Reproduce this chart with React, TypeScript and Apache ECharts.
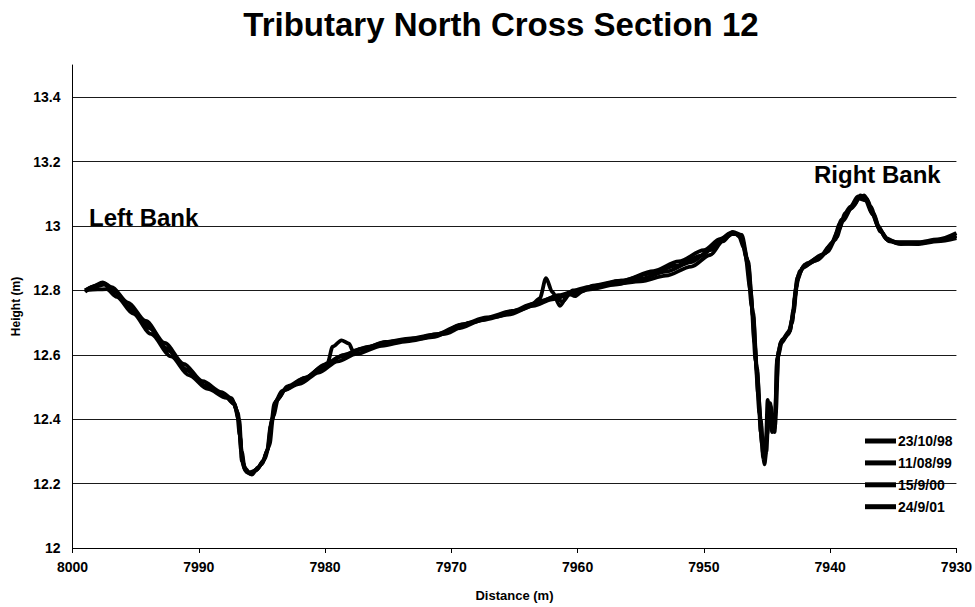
import React, { useEffect, useRef } from "react";
import * as echarts from "echarts";

const TITLE = "Tributary North Cross Section 12";
const X_NAME = "Distance (m)";
const Y_NAME = "Height (m)";
const LEFT_LABEL = "Left Bank";
const RIGHT_LABEL = "Right Bank";
const SERIES_NAMES = ["23/10/98", "11/08/99", "15/9/00", "24/9/01"];

const S98: [number, number][] = [
  [7999.0,12.800],[7998.2,12.812],[7997.5,12.818],[7996.8,12.800],[7995.5,12.750],[7994.0,12.690],[7992.5,12.620],[7991.0,12.555],[7989.5,12.505],[7988.0,12.475],[7987.3,12.455],[7986.9,12.420],[7986.7,12.340],[7986.6,12.270],[7986.3,12.240],[7985.9,12.230],[7985.4,12.245],[7984.9,12.270],[7984.5,12.310],[7984.2,12.400],[7983.8,12.460],[7983.1,12.495],[7981.5,12.530],[7980.0,12.570],[7978.5,12.600],[7977.0,12.620],[7975.0,12.640],[7973.0,12.650],[7971.0,12.665],[7969.0,12.695],[7967.0,12.715],[7965.0,12.735],[7963.0,12.765],[7961.5,12.785],[7960.0,12.800],[7958.5,12.815],[7956.5,12.830],[7954.0,12.860],[7952.0,12.890],[7950.0,12.925],[7948.7,12.960],[7947.8,12.980],[7947.1,12.970],[7946.6,12.900],[7946.2,12.750],[7945.9,12.580],[7945.6,12.420],[7945.4,12.320],[7945.2,12.300],[7945.0,12.350],[7944.8,12.420],[7944.6,12.380],[7944.4,12.370],[7944.2,12.580],[7943.9,12.640],[7943.4,12.660],[7943.0,12.700],[7942.8,12.780],[7942.5,12.850],[7942.0,12.880],[7940.8,12.905],[7940.0,12.940],[7939.3,12.990],[7938.8,13.040],[7938.1,13.065],[7937.6,13.095],[7937.1,13.085],[7936.6,13.040],[7936.0,12.985],[7935.4,12.955],[7934.5,12.948],[7933.0,12.948],[7931.5,12.955],[7930.0,12.970]
];

const S99: [number, number][] = [
  [7999.0,12.800],[7998.0,12.803],[7997.3,12.804],[7996.5,12.780],[7995.2,12.728],[7993.8,12.665],[7992.2,12.595],[7990.8,12.537],[7989.3,12.494],[7987.8,12.466],[7987.2,12.448],[7986.85,12.400],[7986.65,12.300],[7986.4,12.250],[7986.0,12.235],[7985.5,12.240],[7985.0,12.260],[7984.6,12.300],[7984.3,12.380],[7984.0,12.450],[7983.4,12.488],[7982.0,12.510],[7980.5,12.545],[7979.0,12.580],[7977.5,12.603],[7975.5,12.628],[7973.5,12.642],[7971.5,12.655],[7969.5,12.682],[7967.5,12.708],[7965.5,12.725],[7963.5,12.752],[7962.0,12.772],[7960.5,12.788],[7959.0,12.803],[7957.0,12.818],[7955.0,12.836],[7953.0,12.858],[7951.0,12.888],[7949.5,12.925],[7948.4,12.962],[7947.6,12.978],[7947.0,12.962],[7946.5,12.880],[7946.1,12.720],[7945.8,12.550],[7945.5,12.400],[7945.3,12.310],[7945.1,12.330],[7944.9,12.400],[7944.7,12.440],[7944.5,12.370],[7944.3,12.420],[7944.1,12.600],[7943.8,12.645],[7943.2,12.672],[7942.9,12.740],[7942.6,12.840],[7942.1,12.875],[7941.0,12.895],[7940.2,12.920],[7939.5,12.965],[7939.0,13.015],[7938.3,13.055],[7937.7,13.085],[7937.2,13.080],[7936.7,13.040],[7936.1,12.990],[7935.5,12.958],[7934.6,12.945],[7933.0,12.944],[7931.5,12.952],[7930.0,12.962]
];

const S00: [number, number][] = [
  [7999.0,12.795],[7998.4,12.812],[7997.6,12.825],[7996.9,12.810],[7995.6,12.762],[7994.2,12.705],[7992.7,12.637],[7991.2,12.572],[7989.7,12.518],[7988.2,12.484],[7987.4,12.465],[7987.0,12.430],[7986.75,12.350],[7986.55,12.270],[7986.2,12.235],[7985.8,12.228],[7985.3,12.250],[7984.8,12.275],[7984.4,12.320],[7984.1,12.410],[7983.7,12.465],[7983.0,12.502],[7981.6,12.528],[7980.2,12.563],[7978.8,12.594],[7977.2,12.616],[7975.2,12.640],[7973.2,12.651],[7971.2,12.663],[7969.2,12.694],[7967.2,12.716],[7965.2,12.736],[7963.6,12.757],[7963.0,12.775],[7962.5,12.838],[7962.0,12.795],[7961.4,12.752],[7960.7,12.790],[7960.2,12.782],[7959.6,12.798],[7958.8,12.815],[7956.6,12.830],[7954.2,12.852],[7952.2,12.877],[7950.2,12.908],[7948.9,12.948],[7948.0,12.975],[7947.3,12.975],[7946.8,12.930],[7946.3,12.800],[7946.0,12.640],[7945.7,12.480],[7945.5,12.360],[7945.3,12.290],[7945.1,12.320],[7944.95,12.460],[7944.8,12.420],[7944.6,12.360],[7944.35,12.380],[7944.2,12.590],[7943.9,12.635],[7943.3,12.665],[7943.0,12.710],[7942.7,12.810],[7942.4,12.860],[7941.8,12.885],[7940.6,12.912],[7939.8,12.950],[7939.2,13.010],[7938.5,13.050],[7937.8,13.085],[7937.3,13.095],[7936.8,13.060],[7936.2,13.000],[7935.6,12.962],[7934.8,12.950],[7933.0,12.950],[7931.5,12.958],[7930.0,12.978]
];

const S01: [number, number][] = [
  [7999.0,12.800],[7998.1,12.815],[7997.4,12.820],[7996.7,12.795],[7995.4,12.742],[7993.9,12.682],[7992.4,12.612],[7990.9,12.550],[7989.4,12.502],[7987.9,12.472],[7987.2,12.448],[7986.8,12.400],[7986.6,12.300],[7986.35,12.245],[7985.95,12.232],[7985.45,12.242],[7984.95,12.265],[7984.55,12.305],[7984.25,12.390],[7983.9,12.455],[7983.2,12.492],[7981.8,12.522],[7980.4,12.555],[7979.8,12.575],[7979.4,12.625],[7978.7,12.645],[7978.1,12.635],[7977.8,12.612],[7976.5,12.625],[7974.5,12.642],[7972.5,12.650],[7970.5,12.665],[7968.5,12.700],[7966.5,12.718],[7964.5,12.740],[7962.8,12.768],[7961.8,12.780],[7961.2,12.765],[7960.4,12.800],[7959.0,12.812],[7957.0,12.820],[7955.0,12.828],[7953.0,12.846],[7951.0,12.874],[7949.5,12.910],[7948.5,12.952],[7947.7,12.982],[7947.0,12.972],[7946.5,12.890],[7946.1,12.730],[7945.8,12.560],[7945.5,12.390],[7945.3,12.280],[7945.2,12.260],[7945.05,12.300],[7944.9,12.400],[7944.75,12.450],[7944.6,12.400],[7944.4,12.360],[7944.25,12.500],[7944.1,12.610],[7943.8,12.648],[7943.2,12.675],[7942.9,12.730],[7942.6,12.830],[7942.2,12.870],[7941.2,12.892],[7940.4,12.915],[7939.6,12.958],[7939.1,13.020],[7938.4,13.060],[7937.8,13.092],[7937.2,13.088],[7936.6,13.035],[7936.0,12.982],[7935.3,12.952],[7934.4,12.944],[7933.0,12.946],[7931.5,12.955],[7930.0,12.968]
];

const SERIES_DATA = [S98, S99, S00, S01];

const FONT = "'Liberation Sans', Arial, Helvetica, sans-serif";

export default function App() {
  const ref = useRef<HTMLDivElement>(null);
  useEffect(() => {
    if (!ref.current) return;
    const chart = echarts.init(ref.current, null, { renderer: "svg" });
    chart.setOption({
      animation: false,
      backgroundColor: "#ffffff",
      textStyle: { fontFamily: FONT },
      grid: { left: 72.5, right: 18.5, top: 65, bottom: 58.7, containLabel: false },
      xAxis: {
        type: "value",
        inverse: true,
        min: 7930,
        max: 8000,
        interval: 10,
        name: X_NAME,
        nameLocation: "middle",
        nameGap: 41,
        nameTextStyle: { fontFamily: FONT, fontWeight: "bold", fontSize: 13, color: "#000" },
        axisLine: { show: true, onZero: false, lineStyle: { color: "#000", width: 1 } },
        axisTick: { show: true, length: 5, lineStyle: { color: "#000" } },
        axisLabel: {
          fontFamily: FONT, fontWeight: "bold", fontSize: 14, color: "#000", margin: 12,
          formatter: (v: number) => String(v),
        },
        splitLine: { show: false },
      },
      yAxis: {
        type: "value",
        min: 12,
        max: 13.5,
        interval: 0.2,
        name: Y_NAME,
        nameLocation: "middle",
        nameGap: 49,
        nameRotate: 90,
        nameTextStyle: { fontFamily: FONT, fontWeight: "bold", fontSize: 12, color: "#000" },
        axisLine: { show: true, lineStyle: { color: "#000", width: 1 } },
        axisTick: { show: false },
        axisLabel: { fontFamily: FONT, fontWeight: "bold", fontSize: 14, color: "#000", margin: 12, showMaxLabel: false },
        splitLine: { show: true, showMaxLine: false, showMinLine: false, lineStyle: { color: "#1a1a1a", width: 1 } },
      },
      legend: {
        orient: "vertical",
        left: 865,
        top: 434,
        padding: 0,
        itemWidth: 31,
        itemHeight: 5,
        itemGap: 7.9,
        textStyle: { fontFamily: FONT, fontWeight: "bold", fontSize: 14, color: "#000", padding: [0, 0, 0, -3] },
        data: SERIES_NAMES.map((n) => ({ name: n, icon: "rect", itemStyle: { color: "#000" } })),
      },
      graphic: [
        {
          type: "text",
          x: 501,
          y: 24,
          style: { text: TITLE, font: `bold 33px ${FONT}`, fill: "#000", textAlign: "center", textVerticalAlign: "middle" },
        },
        {
          type: "text",
          x: 89,
          y: 217,
          style: { text: LEFT_LABEL, font: `bold 24px ${FONT}`, fill: "#000", textAlign: "left", textVerticalAlign: "middle" },
        },
        {
          type: "text",
          x: 814,
          y: 174,
          style: { text: RIGHT_LABEL, font: `bold 24px ${FONT}`, fill: "#000", textAlign: "left", textVerticalAlign: "middle" },
        },
      ],
      series: SERIES_DATA.map((d, i) => ({
        name: SERIES_NAMES[i],
        type: "line",
        data: d,
        showSymbol: false,
        symbol: "none",
        smooth: 0.3,
        smoothMonotone: "x",
        lineStyle: { color: "#000", width: 3.8 },
        itemStyle: { color: "#000" },
        z: 3,
      })),
    });
    return () => chart.dispose();
  }, []);
  return (
    <div
      ref={ref}
      style={{ position: "absolute", left: 0, top: 0, width: 975, height: 607 }}
    />
  );
}
